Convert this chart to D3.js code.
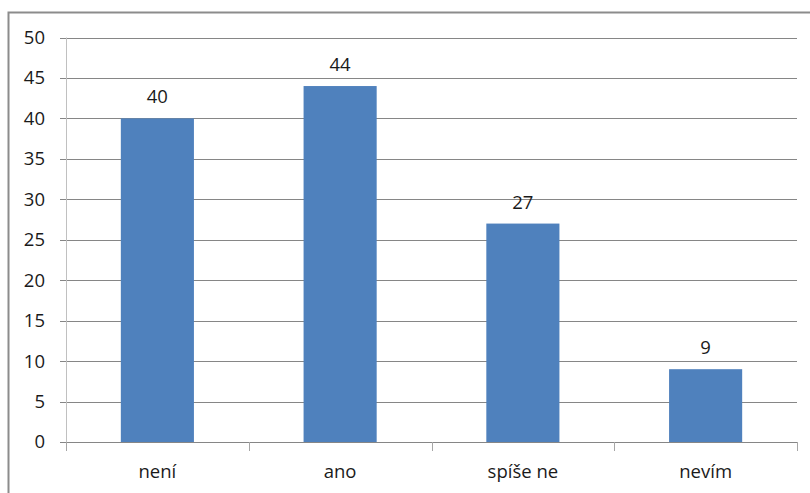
<!DOCTYPE html>
<html>
<head>
<meta charset="utf-8">
<script src="https://cdn.jsdelivr.net/npm/d3@7"></script>
<style>
	body { margin: 0; background: #fff; }
	svg { display: block; }
	text { font-family: 'Open Sans', 'Liberation Sans', Arial, sans-serif; fill: #1a1a1a; }
</style>
</head>
<body>
<div id="chart"></div>
<script>
// Data
var categories = ['není', 'ano', 'spíše ne', 'nevím'];
var values = [40, 44, 27, 9];
var yTicks = [0, 5, 10, 15, 20, 25, 30, 35, 40, 45, 50];

var attrs = {
	svgWidth: 810,
	svgHeight: 493,
	plotLeft: 66,
	plotRight: 797,
	plotTop: 37.5,
	plotBottom: 442,
	barColor: '#4f81bd',
	gridColor: '#868686',
	fontSize: 18.5
};

var svg = d3.select('#chart').append('svg')
	.attr('width', attrs.svgWidth)
	.attr('height', attrs.svgHeight);

// Outer frame (top + left only visible)
svg.append('path')
	.attr('d', 'M8.5,' + attrs.svgHeight + 'V12.5H' + attrs.svgWidth)
	.attr('fill', 'none')
	.attr('stroke', '#8c8c8c')
	.attr('stroke-width', 2);

var x = d3.scaleBand()
	.domain(categories)
	.range([attrs.plotLeft, attrs.plotRight])
	.paddingInner(0.6)
	.paddingOuter(0.3);

var y = d3.scaleLinear()
	.domain([0, 50])
	.range([attrs.plotBottom, attrs.plotTop]);

// Gridlines
svg.append('g')
	.selectAll('line')
	.data(yTicks)
	.enter().append('line')
	.attr('x1', attrs.plotLeft - 6)
	.attr('x2', attrs.plotRight)
	.attr('y1', d => Math.round(y(d)) + 0.5)
	.attr('y2', d => Math.round(y(d)) + 0.5)
	.attr('stroke', attrs.gridColor)
	.attr('stroke-width', 1);

// Y axis line
svg.append('line')
	.attr('x1', attrs.plotLeft + 0.5)
	.attr('x2', attrs.plotLeft + 0.5)
	.attr('y1', attrs.plotTop)
	.attr('y2', attrs.plotBottom + 8)
	.attr('stroke', '#c0c0c0');

// Y labels
svg.append('g')
	.selectAll('text')
	.data(yTicks)
	.enter().append('text')
	.attr('x', 45)
	.attr('y', d => y(d))
	.attr('dy', '0.35em')
	.attr('text-anchor', 'end')
	.attr('font-size', attrs.fontSize)
	.text(d => d);

// X ticks between categories
var tickXs = d3.range(categories.length + 1).map(i => attrs.plotLeft + i * (attrs.plotRight - attrs.plotLeft) / categories.length);
svg.append('g')
	.selectAll('line')
	.data(tickXs)
	.enter().append('line')
	.attr('x1', d => Math.round(d) + 0.5)
	.attr('x2', d => Math.round(d) + 0.5)
	.attr('y1', attrs.plotBottom)
	.attr('y2', attrs.plotBottom + 9)
	.attr('stroke', '#a6a6a6');

// Bars
svg.append('g')
	.selectAll('rect')
	.data(values)
	.enter().append('rect')
	.attr('x', (d, i) => x(categories[i]))
	.attr('y', d => y(d))
	.attr('width', x.bandwidth())
	.attr('height', d => y(0) - y(d))
	.attr('fill', attrs.barColor);

// Value labels
svg.append('g')
	.selectAll('text')
	.data(values)
	.enter().append('text')
	.attr('x', (d, i) => x(categories[i]) + x.bandwidth() / 2)
	.attr('y', d => y(d) - 15)
	.attr('text-anchor', 'middle')
	.attr('font-size', attrs.fontSize)
	.text(d => d);

// Category labels
svg.append('g')
	.selectAll('text')
	.data(categories)
	.enter().append('text')
	.attr('x', d => x(d) + x.bandwidth() / 2)
	.attr('y', 478)
	.attr('text-anchor', 'middle')
	.attr('font-size', attrs.fontSize)
	.text(d => d);
</script>
</body>
</html>
